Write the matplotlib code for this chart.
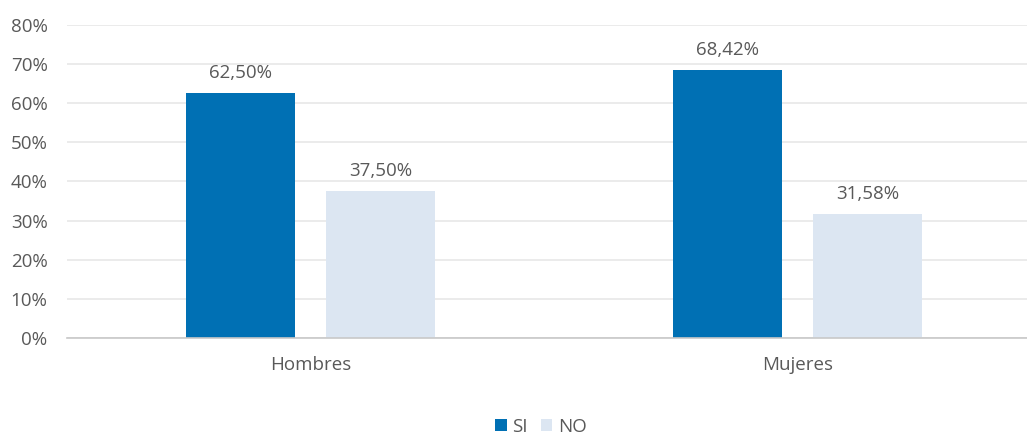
import matplotlib
matplotlib.use("Agg")
import matplotlib.pyplot as plt
import numpy as np

categories = ["Hombres", "Mujeres"]
series_names = ["SI", "NO"]
si_values = [62.50, 68.42]
no_values = [37.50, 31.58]
y_ticks = [0, 10, 20, 30, 40, 50, 60, 70, 80]

plt.rcParams['font.family'] = ['Open Sans', 'DejaVu Sans']
text_color = "#595959"
colors = ["#0070B4", "#DCE6F2"]

fig = plt.figure(figsize=(10.27, 4.34), dpi=100)
ax = fig.add_axes([67/1027, 96/434, 974/1027, 313/434])

x = np.arange(len(categories))
w = 0.224
off = 0.144
for vals, name, c, o in [(si_values, series_names[0], colors[0], -off),
                         (no_values, series_names[1], colors[1], off)]:
    bars = ax.bar(x + o, vals, width=w, color=c, label=name, zorder=3)
    for b, v in zip(bars, vals):
        ax.annotate(f"{v:.2f}%".replace(".", ","), (b.get_x() + b.get_width()/2, v),
                    xytext=(0, 8), textcoords="offset points", ha="center", va="bottom",
                    fontsize=13.5, color=text_color)

ax.set_xlim(-0.5, 1.5)
ax.set_ylim(0, 80)
ax.set_yticks(y_ticks)
ax.set_yticklabels([f"{t}%" for t in y_ticks])
ax.set_xticks(x)
ax.set_xticklabels(categories)
ax.tick_params(axis="both", length=0, labelsize=13.5, colors=text_color)
ax.tick_params(axis="x", pad=13)
ax.tick_params(axis="y", pad=14)
ax.grid(axis="y", color="#E6E6E6", linewidth=1.1, zorder=0)
for s in ["top", "right", "left"]:
    ax.spines[s].set_visible(False)
ax.spines["bottom"].set_color("#C8C8C8")
ax.spines["bottom"].set_linewidth(1.2)
ax.spines["bottom"].set_zorder(4)

leg = fig.legend(loc="center", bbox_to_anchor=(541/1027, 1 - 427/434), ncol=2, frameon=False,
                 fontsize=13.5, handlelength=0.6, handleheight=0.6, handletextpad=0.3,
                 columnspacing=0.7, labelcolor=text_color)

fig.savefig("out.png", dpi=100)
